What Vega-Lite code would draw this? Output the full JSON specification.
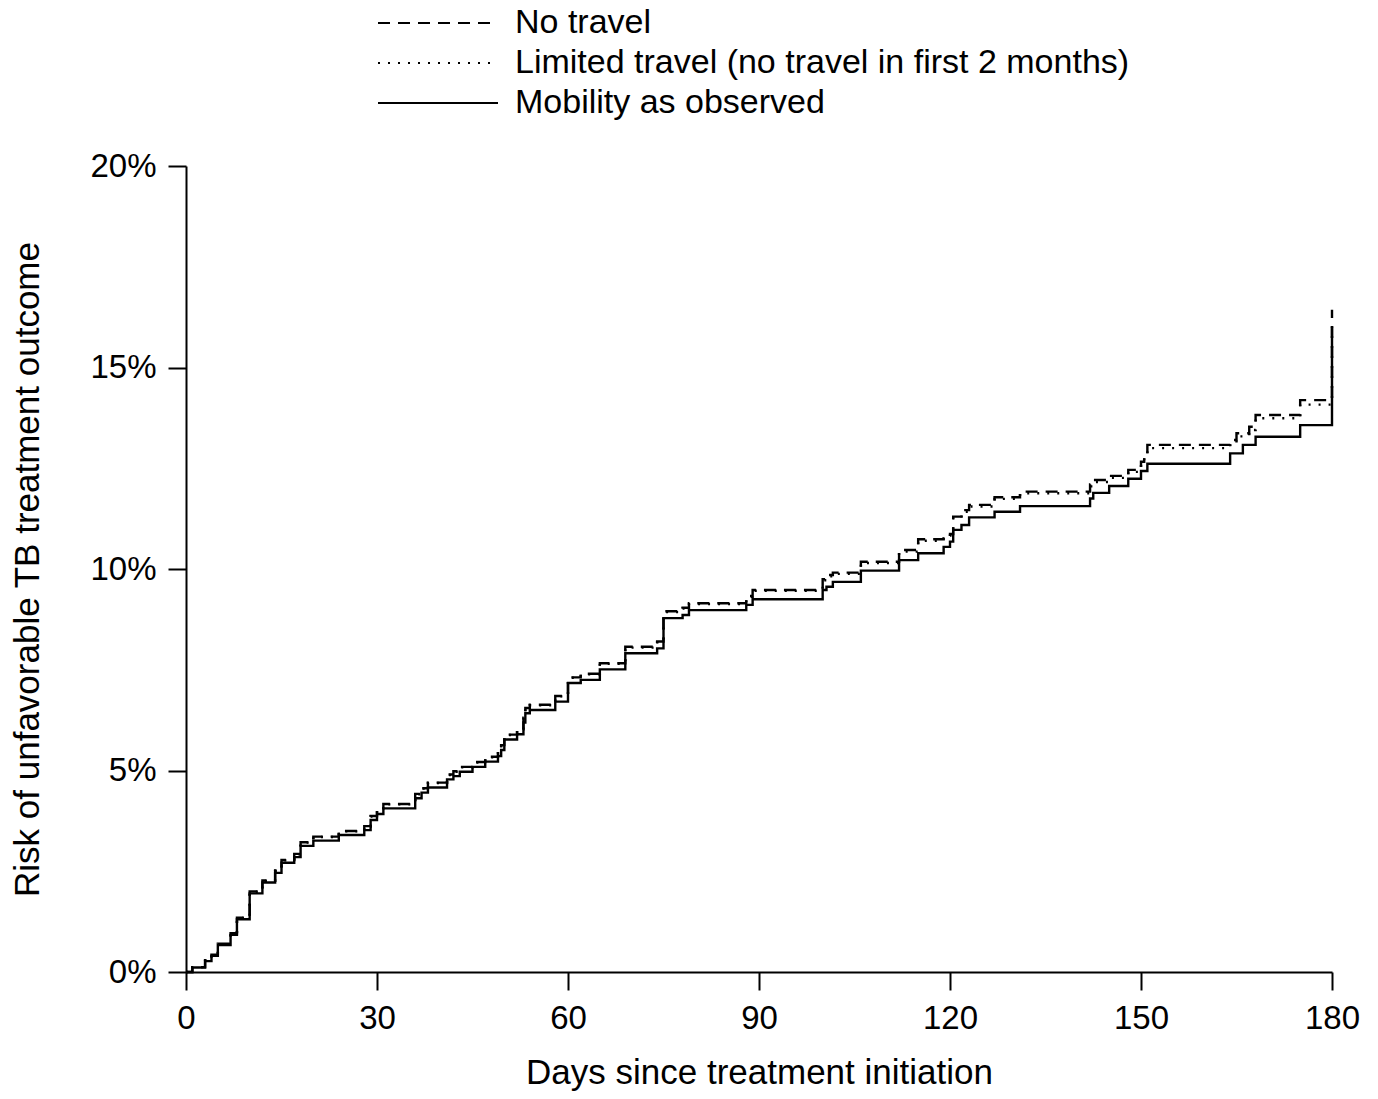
{
  "$schema": "https://vega.github.io/schema/vega-lite/v6.json",
  "width": 1146,
  "height": 806,
  "autosize": "none",
  "padding": {"left": 186, "top": 166, "right": 46, "bottom": 127},
  "background": "white",
  "config": {
    "view": {"stroke": null},
    "font": "Liberation Sans",
    "axis": {"grid": false, "domainColor": "black", "tickColor": "black", "labelColor": "black", "titleColor": "black", "domainWidth": 2, "tickWidth": 2, "tickSize": 18, "labelFontSize": 33, "titleFontSize": 35, "titleFontWeight": "normal", "labelFont": "Liberation Sans", "titleFont": "Liberation Sans"}
  },
  "datasets": {
    "risk": [
      {"s": "Mobility as observed", "day": 0, "risk": 0},
      {"s": "Mobility as observed", "day": 1, "risk": 0.11},
      {"s": "Mobility as observed", "day": 3, "risk": 0.27},
      {"s": "Mobility as observed", "day": 4, "risk": 0.40},
      {"s": "Mobility as observed", "day": 5, "risk": 0.67},
      {"s": "Mobility as observed", "day": 7, "risk": 0.92},
      {"s": "Mobility as observed", "day": 8, "risk": 1.31},
      {"s": "Mobility as observed", "day": 10, "risk": 1.95},
      {"s": "Mobility as observed", "day": 12, "risk": 2.22},
      {"s": "Mobility as observed", "day": 14, "risk": 2.46},
      {"s": "Mobility as observed", "day": 15, "risk": 2.71},
      {"s": "Mobility as observed", "day": 17, "risk": 2.85},
      {"s": "Mobility as observed", "day": 18, "risk": 3.13},
      {"s": "Mobility as observed", "day": 20, "risk": 3.26},
      {"s": "Mobility as observed", "day": 24, "risk": 3.40},
      {"s": "Mobility as observed", "day": 28, "risk": 3.52},
      {"s": "Mobility as observed", "day": 29, "risk": 3.77},
      {"s": "Mobility as observed", "day": 30, "risk": 3.92},
      {"s": "Mobility as observed", "day": 31, "risk": 4.06},
      {"s": "Mobility as observed", "day": 36, "risk": 4.31},
      {"s": "Mobility as observed", "day": 37, "risk": 4.45},
      {"s": "Mobility as observed", "day": 38, "risk": 4.58},
      {"s": "Mobility as observed", "day": 41, "risk": 4.78},
      {"s": "Mobility as observed", "day": 42, "risk": 4.86},
      {"s": "Mobility as observed", "day": 43, "risk": 4.97},
      {"s": "Mobility as observed", "day": 45, "risk": 5.09},
      {"s": "Mobility as observed", "day": 47, "risk": 5.22},
      {"s": "Mobility as observed", "day": 49, "risk": 5.36},
      {"s": "Mobility as observed", "day": 49.5, "risk": 5.51},
      {"s": "Mobility as observed", "day": 50, "risk": 5.77},
      {"s": "Mobility as observed", "day": 52, "risk": 5.90},
      {"s": "Mobility as observed", "day": 53, "risk": 6.19},
      {"s": "Mobility as observed", "day": 53.3, "risk": 6.42},
      {"s": "Mobility as observed", "day": 54, "risk": 6.50},
      {"s": "Mobility as observed", "day": 58, "risk": 6.71},
      {"s": "Mobility as observed", "day": 60, "risk": 7.17},
      {"s": "Mobility as observed", "day": 62, "risk": 7.25},
      {"s": "Mobility as observed", "day": 65, "risk": 7.51},
      {"s": "Mobility as observed", "day": 69, "risk": 7.91},
      {"s": "Mobility as observed", "day": 74, "risk": 8.03},
      {"s": "Mobility as observed", "day": 75, "risk": 8.78},
      {"s": "Mobility as observed", "day": 78, "risk": 8.86},
      {"s": "Mobility as observed", "day": 79, "risk": 8.98},
      {"s": "Mobility as observed", "day": 88, "risk": 9.11},
      {"s": "Mobility as observed", "day": 89, "risk": 9.25},
      {"s": "Mobility as observed", "day": 100, "risk": 9.48},
      {"s": "Mobility as observed", "day": 100.6, "risk": 9.56},
      {"s": "Mobility as observed", "day": 101.6, "risk": 9.68},
      {"s": "Mobility as observed", "day": 106, "risk": 9.96},
      {"s": "Mobility as observed", "day": 112, "risk": 10.22},
      {"s": "Mobility as observed", "day": 115, "risk": 10.39},
      {"s": "Mobility as observed", "day": 119, "risk": 10.55},
      {"s": "Mobility as observed", "day": 120, "risk": 10.68},
      {"s": "Mobility as observed", "day": 120.5, "risk": 10.97},
      {"s": "Mobility as observed", "day": 121.8, "risk": 11.09},
      {"s": "Mobility as observed", "day": 123, "risk": 11.28},
      {"s": "Mobility as observed", "day": 127, "risk": 11.42},
      {"s": "Mobility as observed", "day": 131, "risk": 11.56},
      {"s": "Mobility as observed", "day": 142, "risk": 11.75},
      {"s": "Mobility as observed", "day": 142.5, "risk": 11.89},
      {"s": "Mobility as observed", "day": 145, "risk": 12.06},
      {"s": "Mobility as observed", "day": 148, "risk": 12.24},
      {"s": "Mobility as observed", "day": 150, "risk": 12.43},
      {"s": "Mobility as observed", "day": 151, "risk": 12.61},
      {"s": "Mobility as observed", "day": 164, "risk": 12.87},
      {"s": "Mobility as observed", "day": 166, "risk": 13.08},
      {"s": "Mobility as observed", "day": 168, "risk": 13.28},
      {"s": "Mobility as observed", "day": 175, "risk": 13.57},
      {"s": "Mobility as observed", "day": 179.9, "risk": 13.57},
      {"s": "Mobility as observed", "day": 180, "risk": 16.0},

      {"s": "No travel", "day": 0, "risk": 0},
      {"s": "No travel", "day": 1, "risk": 0.12},
      {"s": "No travel", "day": 3, "risk": 0.29},
      {"s": "No travel", "day": 4, "risk": 0.43},
      {"s": "No travel", "day": 5, "risk": 0.70},
      {"s": "No travel", "day": 7, "risk": 0.96},
      {"s": "No travel", "day": 8, "risk": 1.35},
      {"s": "No travel", "day": 10, "risk": 2.00},
      {"s": "No travel", "day": 12, "risk": 2.27},
      {"s": "No travel", "day": 14, "risk": 2.52},
      {"s": "No travel", "day": 15, "risk": 2.78},
      {"s": "No travel", "day": 17, "risk": 2.93},
      {"s": "No travel", "day": 18, "risk": 3.22},
      {"s": "No travel", "day": 20, "risk": 3.36},
      {"s": "No travel", "day": 24, "risk": 3.50},
      {"s": "No travel", "day": 28, "risk": 3.62},
      {"s": "No travel", "day": 29, "risk": 3.87},
      {"s": "No travel", "day": 30, "risk": 4.03},
      {"s": "No travel", "day": 31, "risk": 4.17},
      {"s": "No travel", "day": 36, "risk": 4.42},
      {"s": "No travel", "day": 37, "risk": 4.56},
      {"s": "No travel", "day": 38, "risk": 4.70},
      {"s": "No travel", "day": 41, "risk": 4.90},
      {"s": "No travel", "day": 42, "risk": 4.98},
      {"s": "No travel", "day": 43, "risk": 5.09},
      {"s": "No travel", "day": 45, "risk": 5.21},
      {"s": "No travel", "day": 47, "risk": 5.34},
      {"s": "No travel", "day": 49, "risk": 5.48},
      {"s": "No travel", "day": 49.5, "risk": 5.63},
      {"s": "No travel", "day": 50, "risk": 5.89},
      {"s": "No travel", "day": 52, "risk": 6.02},
      {"s": "No travel", "day": 53, "risk": 6.32},
      {"s": "No travel", "day": 53.3, "risk": 6.55},
      {"s": "No travel", "day": 54, "risk": 6.63},
      {"s": "No travel", "day": 58, "risk": 6.85},
      {"s": "No travel", "day": 60, "risk": 7.31},
      {"s": "No travel", "day": 62, "risk": 7.40},
      {"s": "No travel", "day": 65, "risk": 7.66},
      {"s": "No travel", "day": 69, "risk": 8.07},
      {"s": "No travel", "day": 74, "risk": 8.20},
      {"s": "No travel", "day": 75, "risk": 8.95},
      {"s": "No travel", "day": 78, "risk": 9.04},
      {"s": "No travel", "day": 79, "risk": 9.15},
      {"s": "No travel", "day": 88, "risk": 9.33},
      {"s": "No travel", "day": 89, "risk": 9.48},
      {"s": "No travel", "day": 100, "risk": 9.75},
      {"s": "No travel", "day": 100.6, "risk": 9.85},
      {"s": "No travel", "day": 101.6, "risk": 9.91},
      {"s": "No travel", "day": 106, "risk": 10.18},
      {"s": "No travel", "day": 112, "risk": 10.47},
      {"s": "No travel", "day": 115, "risk": 10.74},
      {"s": "No travel", "day": 119, "risk": 10.80},
      {"s": "No travel", "day": 120, "risk": 10.87},
      {"s": "No travel", "day": 120.5, "risk": 11.30},
      {"s": "No travel", "day": 121.8, "risk": 11.46},
      {"s": "No travel", "day": 123, "risk": 11.59},
      {"s": "No travel", "day": 127, "risk": 11.78},
      {"s": "No travel", "day": 131, "risk": 11.92},
      {"s": "No travel", "day": 142, "risk": 12.10},
      {"s": "No travel", "day": 142.5, "risk": 12.21},
      {"s": "No travel", "day": 145, "risk": 12.31},
      {"s": "No travel", "day": 148, "risk": 12.46},
      {"s": "No travel", "day": 150, "risk": 12.66},
      {"s": "No travel", "day": 150.5, "risk": 12.83},
      {"s": "No travel", "day": 151, "risk": 13.08},
      {"s": "No travel", "day": 164, "risk": 13.20},
      {"s": "No travel", "day": 165, "risk": 13.37},
      {"s": "No travel", "day": 167, "risk": 13.53},
      {"s": "No travel", "day": 168, "risk": 13.82},
      {"s": "No travel", "day": 175, "risk": 14.19},
      {"s": "No travel", "day": 179.9, "risk": 14.19},
      {"s": "No travel", "day": 180, "risk": 16.43},

      {"s": "Limited travel (no travel in first 2 months)", "day": 0, "risk": 0},
      {"s": "Limited travel (no travel in first 2 months)", "day": 1, "risk": 0.12},
      {"s": "Limited travel (no travel in first 2 months)", "day": 3, "risk": 0.28},
      {"s": "Limited travel (no travel in first 2 months)", "day": 4, "risk": 0.42},
      {"s": "Limited travel (no travel in first 2 months)", "day": 5, "risk": 0.69},
      {"s": "Limited travel (no travel in first 2 months)", "day": 7, "risk": 0.95},
      {"s": "Limited travel (no travel in first 2 months)", "day": 8, "risk": 1.34},
      {"s": "Limited travel (no travel in first 2 months)", "day": 10, "risk": 1.99},
      {"s": "Limited travel (no travel in first 2 months)", "day": 12, "risk": 2.26},
      {"s": "Limited travel (no travel in first 2 months)", "day": 14, "risk": 2.51},
      {"s": "Limited travel (no travel in first 2 months)", "day": 15, "risk": 2.77},
      {"s": "Limited travel (no travel in first 2 months)", "day": 17, "risk": 2.92},
      {"s": "Limited travel (no travel in first 2 months)", "day": 18, "risk": 3.21},
      {"s": "Limited travel (no travel in first 2 months)", "day": 20, "risk": 3.35},
      {"s": "Limited travel (no travel in first 2 months)", "day": 24, "risk": 3.49},
      {"s": "Limited travel (no travel in first 2 months)", "day": 28, "risk": 3.61},
      {"s": "Limited travel (no travel in first 2 months)", "day": 29, "risk": 3.86},
      {"s": "Limited travel (no travel in first 2 months)", "day": 30, "risk": 4.02},
      {"s": "Limited travel (no travel in first 2 months)", "day": 31, "risk": 4.16},
      {"s": "Limited travel (no travel in first 2 months)", "day": 36, "risk": 4.41},
      {"s": "Limited travel (no travel in first 2 months)", "day": 37, "risk": 4.55},
      {"s": "Limited travel (no travel in first 2 months)", "day": 38, "risk": 4.69},
      {"s": "Limited travel (no travel in first 2 months)", "day": 41, "risk": 4.89},
      {"s": "Limited travel (no travel in first 2 months)", "day": 42, "risk": 4.97},
      {"s": "Limited travel (no travel in first 2 months)", "day": 43, "risk": 5.08},
      {"s": "Limited travel (no travel in first 2 months)", "day": 45, "risk": 5.20},
      {"s": "Limited travel (no travel in first 2 months)", "day": 47, "risk": 5.33},
      {"s": "Limited travel (no travel in first 2 months)", "day": 49, "risk": 5.47},
      {"s": "Limited travel (no travel in first 2 months)", "day": 49.5, "risk": 5.62},
      {"s": "Limited travel (no travel in first 2 months)", "day": 50, "risk": 5.88},
      {"s": "Limited travel (no travel in first 2 months)", "day": 52, "risk": 6.01},
      {"s": "Limited travel (no travel in first 2 months)", "day": 53, "risk": 6.31},
      {"s": "Limited travel (no travel in first 2 months)", "day": 53.3, "risk": 6.54},
      {"s": "Limited travel (no travel in first 2 months)", "day": 54, "risk": 6.62},
      {"s": "Limited travel (no travel in first 2 months)", "day": 58, "risk": 6.84},
      {"s": "Limited travel (no travel in first 2 months)", "day": 60, "risk": 7.30},
      {"s": "Limited travel (no travel in first 2 months)", "day": 62, "risk": 7.39},
      {"s": "Limited travel (no travel in first 2 months)", "day": 65, "risk": 7.65},
      {"s": "Limited travel (no travel in first 2 months)", "day": 69, "risk": 8.05},
      {"s": "Limited travel (no travel in first 2 months)", "day": 74, "risk": 8.18},
      {"s": "Limited travel (no travel in first 2 months)", "day": 75, "risk": 8.93},
      {"s": "Limited travel (no travel in first 2 months)", "day": 78, "risk": 9.02},
      {"s": "Limited travel (no travel in first 2 months)", "day": 79, "risk": 9.13},
      {"s": "Limited travel (no travel in first 2 months)", "day": 88, "risk": 9.31},
      {"s": "Limited travel (no travel in first 2 months)", "day": 89, "risk": 9.46},
      {"s": "Limited travel (no travel in first 2 months)", "day": 100, "risk": 9.72},
      {"s": "Limited travel (no travel in first 2 months)", "day": 100.6, "risk": 9.82},
      {"s": "Limited travel (no travel in first 2 months)", "day": 101.6, "risk": 9.88},
      {"s": "Limited travel (no travel in first 2 months)", "day": 106, "risk": 10.15},
      {"s": "Limited travel (no travel in first 2 months)", "day": 112, "risk": 10.43},
      {"s": "Limited travel (no travel in first 2 months)", "day": 115, "risk": 10.70},
      {"s": "Limited travel (no travel in first 2 months)", "day": 119, "risk": 10.76},
      {"s": "Limited travel (no travel in first 2 months)", "day": 120, "risk": 10.83},
      {"s": "Limited travel (no travel in first 2 months)", "day": 120.5, "risk": 11.26},
      {"s": "Limited travel (no travel in first 2 months)", "day": 121.8, "risk": 11.42},
      {"s": "Limited travel (no travel in first 2 months)", "day": 123, "risk": 11.55},
      {"s": "Limited travel (no travel in first 2 months)", "day": 127, "risk": 11.74},
      {"s": "Limited travel (no travel in first 2 months)", "day": 131, "risk": 11.88},
      {"s": "Limited travel (no travel in first 2 months)", "day": 142, "risk": 12.05},
      {"s": "Limited travel (no travel in first 2 months)", "day": 142.5, "risk": 12.16},
      {"s": "Limited travel (no travel in first 2 months)", "day": 145, "risk": 12.26},
      {"s": "Limited travel (no travel in first 2 months)", "day": 148, "risk": 12.41},
      {"s": "Limited travel (no travel in first 2 months)", "day": 150, "risk": 12.60},
      {"s": "Limited travel (no travel in first 2 months)", "day": 150.5, "risk": 12.77},
      {"s": "Limited travel (no travel in first 2 months)", "day": 151, "risk": 13.00},
      {"s": "Limited travel (no travel in first 2 months)", "day": 164, "risk": 13.12},
      {"s": "Limited travel (no travel in first 2 months)", "day": 165, "risk": 13.29},
      {"s": "Limited travel (no travel in first 2 months)", "day": 167, "risk": 13.45},
      {"s": "Limited travel (no travel in first 2 months)", "day": 168, "risk": 13.74},
      {"s": "Limited travel (no travel in first 2 months)", "day": 175, "risk": 14.08},
      {"s": "Limited travel (no travel in first 2 months)", "day": 179.9, "risk": 14.08},
      {"s": "Limited travel (no travel in first 2 months)", "day": 180, "risk": 16.2}
    ]
  },
  "data": {"name": "risk"},
  "mark": {"type": "line", "interpolate": "step-after", "color": "black", "strokeWidth": 2.4, "clip": false},
  "encoding": {
    "x": {
      "field": "day", "type": "quantitative",
      "scale": {"domain": [0, 180], "nice": false, "zero": false},
      "axis": {"values": [0, 30, 60, 90, 120, 150, 180], "title": "Days since treatment initiation", "labelPadding": 12, "titlePadding": 20, "labelFlush": false}
    },
    "y": {
      "field": "risk", "type": "quantitative",
      "scale": {"domain": [0, 20], "nice": false},
      "axis": {"values": [0, 5, 10, 15, 20], "labelExpr": "datum.value + '%'", "title": "Risk of unfavorable TB treatment outcome", "labelPadding": 12, "titlePadding": 44}
    },
    "strokeDash": {
      "field": "s", "type": "nominal",
      "scale": {
        "domain": ["No travel", "Limited travel (no travel in first 2 months)", "Mobility as observed"],
        "range": [[12, 8], [2, 8], [1, 0]]
      },
      "legend": {
        "title": null, "orient": "none", "legendX": 235, "legendY": -160, "padding": 0,
        "symbolType": "M-6,0H6", "symbolSize": 400, "symbolStrokeWidth": 2, "symbolStrokeColor": "black", "symbolFillColor": "transparent",
        "labelFontSize": 34, "labelColor": "black", "labelFont": "Liberation Sans", "labelOffset": 60, "rowPadding": 6, "labelLimit": 1000
      }
    },
    "order": {"field": "day"}
  }
}
